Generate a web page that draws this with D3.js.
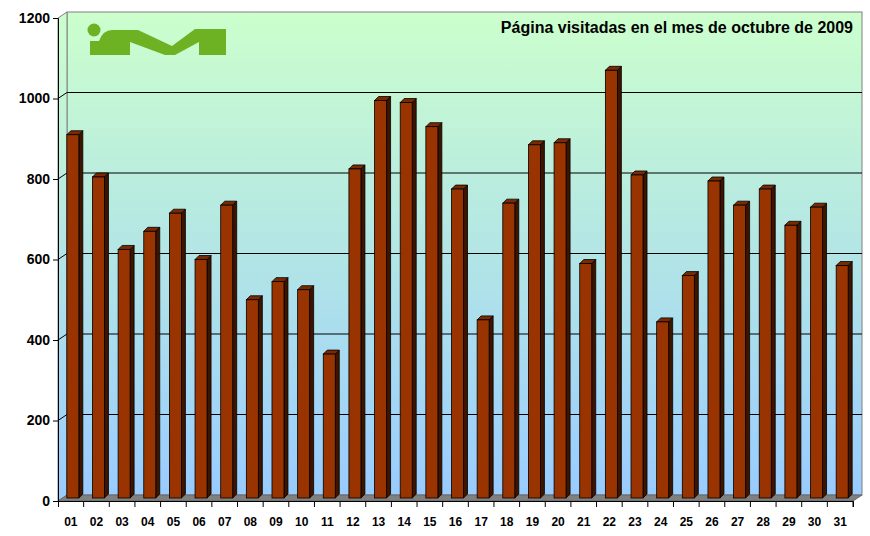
<!DOCTYPE html>
<html><head><meta charset="utf-8">
<script src="https://cdn.jsdelivr.net/npm/d3@7"></script>
<style>body{margin:0;background:#fff}svg{font-family:Arial,"Liberation Sans",sans-serif}</style>
</head><body>
<script>
var days = ["01","02","03","04","05","06","07","08","09","10","11","12","13","14","15","16","17","18","19","20","21","22","23","24","25","26","27","28","29","30","31"];
var visits = [910,805,625,670,715,600,735,500,545,525,365,825,995,990,930,775,450,740,885,890,590,1070,810,445,560,795,735,775,685,730,585];
var yTicks = [0,200,400,600,800,1000,1200];

var W = 870, H = 536, dx = 9, dy = -6;
var x0 = 58, x1 = 853, yTop = 18, yBot = 501;
var svg = d3.select("body").append("svg").attr("width", W).attr("height", H);

var x = d3.scaleBand().domain(days).range([x0, x1]);
var y = d3.scaleLinear().domain([0, 1200]).range([yBot, yTop]);

var defs = svg.append("defs");
var g = defs.append("linearGradient").attr("id","bg").attr("x1",0).attr("y1",0).attr("x2",0).attr("y2",1);
g.append("stop").attr("offset","0%").attr("stop-color","#ccffcc");
g.append("stop").attr("offset","100%").attr("stop-color","#99ccff");

// back wall
svg.append("rect").attr("x", x0+dx).attr("y", yTop+dy).attr("width", x1-x0).attr("height", yBot-yTop)
  .attr("fill","url(#bg)").attr("stroke","#808080");
// left wall
svg.append("path").attr("d","M"+x0+","+yTop+"L"+(x0+dx)+","+(yTop+dy)+"L"+(x0+dx)+","+(yBot+dy)+"L"+x0+","+yBot+"Z")
  .attr("fill","url(#bg)").attr("stroke","#808080");
// floor
svg.append("path").attr("d","M"+x0+","+yBot+"L"+(x0+dx)+","+(yBot+dy)+"L"+(x1+dx)+","+(yBot+dy)+"L"+x1+","+yBot+"Z")
  .attr("fill","#808080").attr("stroke","#666");

// grid
yTicks.slice(1,-1).forEach(function(t){
  svg.append("line").attr("x1",x0+dx).attr("x2",x1+dx).attr("y1",y(t)+dy).attr("y2",y(t)+dy).attr("stroke","#000");
  svg.append("line").attr("x1",x0).attr("x2",x0+dx).attr("y1",y(t)).attr("y2",y(t)+dy).attr("stroke","#000");
});

// logo
var logo = svg.append("g").attr("fill","#6db223");
logo.append("circle").attr("cx",94).attr("cy",30).attr("r",6.5);
logo.append("path").attr("d","M90,41 L99,41 Q103,30 112,30 L138,30 L172,46 L195,29 L226,29 L226,55 L199,55 L199,42 L175,55 L165,55 L130,42 L130,55 L90,55 Z");

// title
svg.append("text").attr("x",853).attr("y",33).attr("text-anchor","end")
  .attr("font-size",16).attr("font-weight","bold").text("Página visitadas en el mes de octubre de 2009");

// bars
var bw = 12, bd = 4;
var bars = svg.append("g").selectAll("g").data(visits).join("g");
bars.each(function(v,i){
  var s = d3.select(this);
  var bx = x(days[i]) + x.bandwidth()/2 - bw/2 + 2, top = y(v), base = yBot - 3;
  s.append("path").attr("d","M"+(bx+bw)+","+top+"L"+(bx+bw+bd)+","+(top-bd)+"L"+(bx+bw+bd)+","+(base-bd)+"L"+(bx+bw)+","+base+"Z")
    .attr("fill","#3d1400").attr("stroke","#000").attr("stroke-width",0.8);
  s.append("path").attr("d","M"+bx+","+top+"L"+(bx+bd)+","+(top-bd)+"L"+(bx+bw+bd)+","+(top-bd)+"L"+(bx+bw)+","+top+"Z")
    .attr("fill","#7a2a00").attr("stroke","#000").attr("stroke-width",0.8);
  s.append("rect").attr("x",bx).attr("y",top).attr("width",bw).attr("height",base-top)
    .attr("fill","#993300").attr("stroke","#000").attr("stroke-width",0.8);
});

// axes
svg.append("g").attr("transform","translate("+x0+",0)")
  .call(d3.axisLeft(y).tickValues(yTicks).tickSize(5).tickFormat(d3.format("d")))
  .call(function(a){a.select(".domain").attr("stroke","#000");a.selectAll("text").attr("font-size",14).attr("font-weight","bold").attr("fill","#000");});
svg.append("g").attr("transform","translate(0,"+yBot+")")
  .call(d3.axisBottom(x).tickSizeOuter(0).tickSize(6))
  .call(function(a){a.selectAll(".tick line").attr("transform","translate("+(x.bandwidth()/2)+",0)");
    a.selectAll("text").attr("font-size",12).attr("font-weight","bold").attr("fill","#000").attr("dy","1.3em");});
</script>
</body></html>
